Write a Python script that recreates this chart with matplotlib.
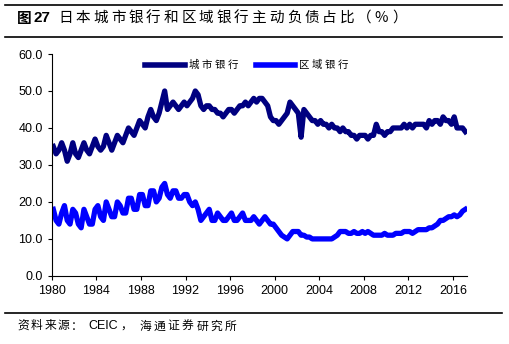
import matplotlib.pyplot as plt
import numpy as np
from matplotlib.lines import Line2D

plt.rcParams['font.family'] = ['Liberation Sans', 'Noto Sans CJK SC', 'DejaVu Sans']
cjk = ['Noto Sans CJK SC', 'DejaVu Sans']

# quarterly readings, 1980Q1 .. 2017Q1
city_banks = [
    35, 33, 34, 36,  34, 31, 33, 36,  33, 32, 34, 36,  34, 33, 35, 37,
    35, 34, 35, 38,  36, 34, 36, 38,  37, 36, 38, 40,  39, 38, 40, 42,
    41, 40, 43, 45,  43, 42, 44, 47,  50, 45, 46, 47,  46, 45, 46, 47,
    46, 47, 48, 50,  49, 46, 45, 46,  46, 45, 45, 44,  44, 43, 44, 45,
    45, 44, 45, 46,  46, 47, 46, 47,  48, 47, 48, 48,  47, 46, 43, 42,
    42, 41, 42, 43,  44, 47, 46, 45,  44, 37.5, 45, 44,  43, 42, 42, 41,
    42, 41, 41, 40,  41, 40, 40, 39,  40, 39, 39, 38,  38, 37, 38, 38,
    38, 37, 38, 38,  41, 39, 39, 38,  39, 39, 40, 40,  40, 40, 41, 40,
    41, 40, 41, 41,  41, 41, 40, 42,  41, 42, 42, 41,  43, 42, 42, 41,
    43, 40, 40, 40,  39,
]
regional_banks = [
    18, 15, 14, 17,  19, 15, 14, 18,  17, 14, 13, 18,  16, 14, 14, 18,
    19, 16, 15, 20,  18, 16, 16, 20,  19, 17, 17, 21,  21, 18, 18, 22,
    22, 19, 19, 23,  23, 20, 21, 24,  25, 22, 21, 23,  23, 21, 21, 22,
    22, 20, 19, 20,  18, 15, 16, 17,  18, 15, 15, 17,  16, 15, 15, 16,
    17, 15, 15, 16,  17, 15, 15, 15,  16, 15, 14, 15,  16, 15, 14, 14,
    13, 12, 11, 10.5,  10, 11, 12, 12,  12, 11, 11, 10.5,  10.5, 10, 10, 10,
    10, 10, 10, 10,  10, 10.5, 11, 12,  12, 12, 11.5, 11.5,  12, 11.5, 11.5, 12,
    11.5, 12, 11.5, 11,  11, 11, 11, 11.5,  11, 11, 11, 11.5,  11.5, 11.5, 12, 12,
    12, 11.5, 12, 12.5,  12.5, 12.5, 12.5, 13,  13, 13.5, 14, 15,  15, 15.5, 16, 16,
    16.5, 16, 16.5, 17.5,  18,
]
t = 1980 + np.arange(len(city_banks)) / 4 + 0.125
xticks = list(range(1980, 2017, 4))
yticks = [0, 10, 20, 30, 40, 50, 60]

W, H = 509, 344
fig = plt.figure(figsize=(W / 100, H / 100), dpi=100)
ax = fig.add_axes([0.102, 0.198, 0.815, 0.645])

ax.plot(t, city_banks, color='#000080', lw=3.8, solid_joinstyle='round')
ax.plot(t, regional_banks, color='#0000FF', lw=3.8, solid_joinstyle='round')

ax.set_xlim(1980, 2017.25)
ax.set_ylim(0, 60)
ax.set_xticks(xticks)
ax.set_yticks(yticks)
ax.set_yticklabels(['%.1f' % v for v in yticks])
ax.tick_params(labelsize=9, length=3, direction='out', width=0.8)
for s in ['top', 'right']:
    ax.spines[s].set_visible(False)

# legend drawn by hand, characters spaced like the original
leg_y = 1 - 65 / H
for x0, x1, c, lab in [(145, 185, '#000080', '城市银行'), (256, 295, '#0000FF', '区域银行')]:
    fig.add_artist(Line2D([x0 / W, x1 / W], [leg_y] * 2, color=c, lw=4))
    for i, ch in enumerate(lab):
        fig.text((x1 + 4 + i * 13) / W, leg_y, ch, family=cjk, fontsize=7.5, va='center')


def spaced(x, y, s, step, **kw):
    for i, ch in enumerate(s):
        fig.text((x + i * step) / W, 1 - y / H, ch, family=cjk, va='center', **kw)


for y in [4.5, 37, 313]:
    fig.add_artist(Line2D([5 / W, 502 / W], [1 - y / H] * 2, color='black', lw=1.2))

spaced(17, 18, '图', 18, fontsize=10.5, weight='bold')
fig.text(34 / W, 1 - 18 / H, '27', fontsize=11, weight='bold', va='center')
spaced(58, 18, '日本城市银行和区域银行主动负债占比（%）', 17.6, fontsize=10.5)

spaced(17, 326, '资料来源：', 13.6, fontsize=8.5)
fig.text(88 / W, 1 - 326 / H, 'CEIC', fontsize=9, va='center')
spaced(120, 326, '，', 13.6, fontsize=8.5)
spaced(139, 326, '海通证券研究所', 14.3, fontsize=8.5)

fig.savefig('out.png', dpi=100)
